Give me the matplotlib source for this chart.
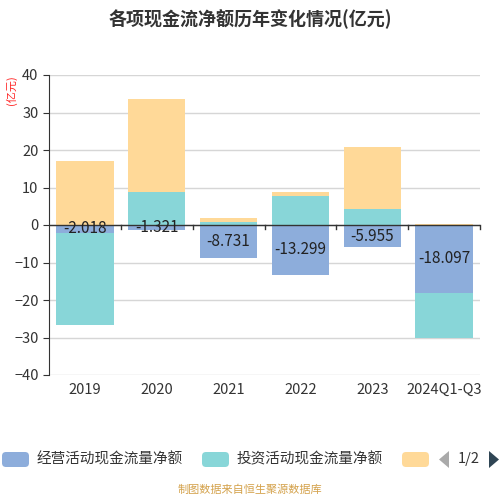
import numpy as np
import matplotlib.pyplot as plt
from matplotlib.patches import FancyBboxPatch, Polygon

plt.rcParams['font.family'] = ['Noto Sans CJK SC', 'DejaVu Sans']

categories = ['2019', '2020', '2021', '2022', '2023', '2024Q1-Q3']
operating = [-2.018, -1.321, -8.731, -13.299, -5.955, -18.097]
investing = [-24.65, 8.7, 0.75, 7.8, 4.27, -11.95]
financing = [17.07, 24.9, 1.05, 1.0, 16.5, 0.3]
names = ['经营活动现金流量净额', '投资活动现金流量净额', '筹资活动现金流量净额']
colors = ['#8DADDB', '#88D6D8', '#FFD998']

fig = plt.figure(figsize=(5, 5), dpi=100)
ax = fig.add_axes([0.098, 0.25, 0.862, 0.60])

x = np.arange(len(categories))
pos = np.zeros(len(categories))
neg = np.zeros(len(categories))
for vals, c in zip([operating, investing, financing], colors):
    v = np.array(vals)
    bottom = np.where(v >= 0, pos, neg)
    ax.bar(x, v, 0.8, bottom=bottom, color=c, zorder=2)
    pos = pos + np.where(v >= 0, v, 0)
    neg = neg + np.where(v < 0, v, 0)

for i, v in enumerate(operating):
    ax.text(i, v / 2, f'{v:.3f}', ha='center', va='center', fontsize=11, color='#222222', zorder=4)

ax.set_xlim(-0.5, len(categories) - 0.5)
ax.set_ylim(-40, 40)
ax.set_yticks(range(-40, 41, 10))
ax.set_xticks(x)
ax.set_xticklabels(categories)
ax.tick_params(axis='x', length=0, labelsize=10.5, colors='#333333', pad=6)
ax.tick_params(axis='y', length=4, labelsize=10.5, colors='#333333', direction='out')
ax.grid(axis='y', color='#d6d6d6', lw=1, zorder=0)
for s in ['top', 'right', 'bottom']:
    ax.spines[s].set_visible(False)
ax.spines['left'].set_color('#333333')
ax.axhline(0, color='#333333', lw=1, zorder=3)
for b in np.arange(0.5, len(categories) - 0.5 + 1e-9, 1):
    ax.plot([b, b], [0, -1.0], color='#333333', lw=1, zorder=3, clip_on=False)

fig.text(0.5, 0.962, '各项现金流净额历年变化情况(亿元)', ha='center', va='center', fontsize=13, fontweight='bold', color='#333333')
fig.text(0.022, 0.82, '(亿元)', rotation=90, ha='center', va='center', fontsize=8, color='#ff2222')

# legend
for lx, name, c in zip([0.0, 0.4, 0.8], names, colors):
    fig.patches.append(FancyBboxPatch((lx + 0.004, 0.066), 0.054, 0.03,
                                      boxstyle='round,pad=0,rounding_size=0.008',
                                      transform=fig.transFigure, color=c, lw=0))
    if lx < 0.8:
        fig.text(lx + 0.074, 0.081, name, ha='left', va='center', fontsize=10.5, color='#333333')
fig.patches.append(Polygon([[0.898, 0.064], [0.898, 0.098], [0.878, 0.081]], closed=True,
                           transform=fig.transFigure, color='#aaaaaa', lw=0))
fig.patches.append(Polygon([[0.978, 0.064], [0.978, 0.098], [0.998, 0.081]], closed=True,
                           transform=fig.transFigure, color='#2f4554', lw=0))
fig.text(0.938, 0.083, '1/2', ha='center', va='center', fontsize=10.5, color='#333333')

fig.text(0.5, 0.02, '制图数据来自恒生聚源数据库', ha='center', va='center', fontsize=8, color='#D4A24C')

fig.savefig('out.png', dpi=100)
